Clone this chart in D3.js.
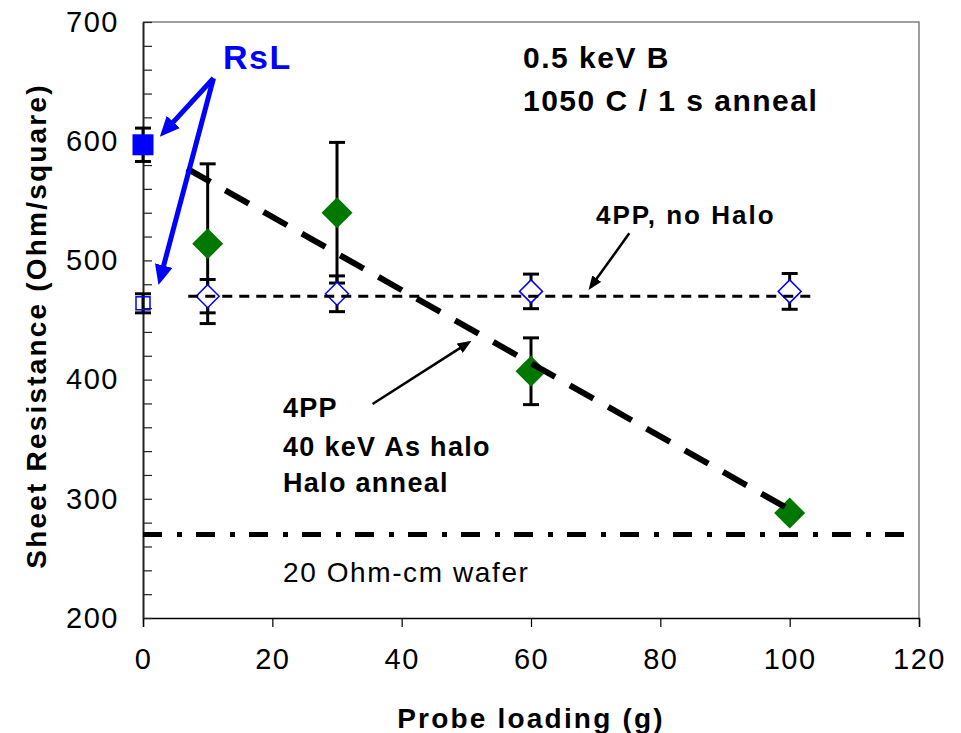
<!DOCTYPE html>
<html><head><meta charset="utf-8">
<script src="https://cdn.jsdelivr.net/npm/d3@7"></script>
<style>body{margin:0;background:#fff} svg{display:block}</style>
</head><body>
<svg id="c" width="961" height="733"></svg>
<script>
// ---- data ----
const xTicks = [0, 20, 40, 60, 80, 100, 120];
const yTicks = [200, 300, 400, 500, 600, 700];
const yMinor = [200,220,240,260,280,300,320,340,360,380,400,420,440,460,480,500,520,540,560,580,600,620,640,660,680,700];
const loading = [10, 30, 60, 100];
const noHalo = [470, 472, 474, 474];
const noHaloErr = [14, 15, 14.5, 15];
const halo = [514, 540, 407, 288];
const haloErr = [67, 59, 28, 0];
const rslLoading = [0];
const rslFilled = [597];
const rslFilledErr = [14];
const rslOpen = [464];
const rslOpenErr = [8];
const noHaloLevelX = [7, 104];
const noHaloLevel = 470;
const haloTrendX = [6.8, 101.6];
const haloTrendY = [577, 286];
const waferX = [0, 118];
const waferLevel = 270;

// ---- setup ----
const svg = d3.select('#c');
const x = d3.scaleLinear().domain([0, 120]).range([143, 919]);
const y = d3.scaleLinear().domain([200, 700]).range([618, 22]);
const font = '"Liberation Sans", Arial, sans-serif';
const green = '#007800';
const blue = '#0000ff';

// plot frame (top / right)
svg.append('path').attr('d', `M${x(0)},${y(700)}H${x(120)}V${y(200)}`)
  .attr('fill', 'none').attr('stroke', '#808080').attr('stroke-width', 1.5);

// defs
const defs = svg.append('defs');
function marker(id, len, wid, color) {
  defs.append('marker').attr('id', id).attr('viewBox', `0 0 ${len} ${wid}`)
    .attr('refX', len).attr('refY', wid / 2).attr('markerWidth', len).attr('markerHeight', wid)
    .attr('markerUnits', 'userSpaceOnUse').attr('orient', 'auto')
    .append('path').attr('d', `M0,0L${len},${wid/2}L0,${wid}Z`).attr('fill', color);
}
marker('blueHead', 20, 18, blue);
marker('blackHead', 14, 11, '#000');

// axes
const gx = svg.append('g').attr('transform', `translate(0,${y(200)})`)
  .call(d3.axisBottom(x).tickValues(xTicks).tickSize(9).tickPadding(21));
gx.select('.domain').attr('stroke', '#000').attr('stroke-width', 1.5);
gx.selectAll('.tick line').attr('stroke', '#000').attr('stroke-width', 1.2);
gx.selectAll('.tick text').attr('font-family', font).attr('font-size', 29)
  .attr('fill', '#000').style('letter-spacing', '1.5px').attr('dy', '0.71em');

const gyMinor = svg.append('g').attr('transform', `translate(${x(0)},0)`)
  .call(d3.axisLeft(y).tickValues(yMinor).tickSize(-9).tickFormat(''));
gyMinor.select('.domain').remove();
gyMinor.selectAll('.tick line').attr('stroke', '#222').attr('stroke-width', 1.2);

const gy = svg.append('g').attr('transform', `translate(${x(0)},0)`)
  .call(d3.axisLeft(y).tickValues(yTicks).tickSize(0).tickPadding(24));
gy.select('.domain').attr('stroke', '#222').attr('stroke-width', 2);
gy.selectAll('.tick text').attr('font-family', font).attr('font-size', 29)
  .attr('fill', '#000').style('letter-spacing', '1.5px');

// axis titles
svg.append('text').attr('x', (x(0) + x(120)) / 2).attr('y', 728).attr('text-anchor', 'middle')
  .attr('font-family', font).attr('font-size', 28).attr('font-weight', 'bold')
  .style('letter-spacing', '2.2px').text('Probe loading (g)');
svg.append('text').attr('transform', `translate(46,${(y(200) + y(700)) / 2 + 6}) rotate(-90)`)
  .attr('text-anchor', 'middle').attr('font-family', font).attr('font-size', 28)
  .attr('font-weight', 'bold').style('letter-spacing', '2.2px').text('Sheet Resistance (Ohm/square)');

// error bars
const plot = svg.append('g');
function errBars(xs, ys, es) {
  xs.forEach((xv, i) => {
    if (!es[i]) return;
    const cx = x(xv), y1 = y(ys[i] + es[i]), y2 = y(ys[i] - es[i]);
    plot.append('line').attr('x1', cx).attr('x2', cx).attr('y1', y1).attr('y2', y2)
      .attr('stroke', '#000').attr('stroke-width', 3);
    [y1, y2].forEach(yy => plot.append('line').attr('x1', cx - 8).attr('x2', cx + 8)
      .attr('y1', yy).attr('y2', yy).attr('stroke', '#000').attr('stroke-width', 3));
  });
}
errBars(loading, halo, haloErr);
errBars(loading, noHalo, noHaloErr);
errBars(rslLoading, rslFilled, rslFilledErr);
errBars(rslLoading, rslOpen, rslOpenErr);

const diamond = r => `M0,${-r}L${r},0L0,${r}L${-r},0Z`;
// halo (green filled diamonds)
plot.selectAll('.halo').data(loading).join('path')
  .attr('transform', (d, i) => `translate(${x(d)},${y(halo[i])})`)
  .attr('d', diamond(15.5)).attr('fill', green);
// no halo (open blue diamonds)
plot.selectAll('.nohalo').data(loading).join('path')
  .attr('transform', (d, i) => `translate(${x(d)},${y(noHalo[i])})`)
  .attr('d', diamond(11.5)).attr('fill', '#fff').attr('stroke', blue).attr('stroke-width', 1.5);
// RsL squares
plot.selectAll('.rslf').data(rslLoading).join('rect')
  .attr('x', (d) => x(d) - 10.5).attr('y', (d, i) => y(rslFilled[i]) - 10.5)
  .attr('width', 21).attr('height', 21).attr('fill', blue);
plot.selectAll('.rslo').data(rslLoading).join('rect')
  .attr('x', (d) => x(d) - 7).attr('y', (d, i) => y(rslOpen[i]) - 6.5)
  .attr('width', 14).attr('height', 13).attr('fill', 'none').attr('stroke', blue).attr('stroke-width', 1.5);

// reference lines
plot.append('line').attr('x1', x(noHaloLevelX[0])).attr('x2', x(noHaloLevelX[1]))
  .attr('y1', y(noHaloLevel)).attr('y2', y(noHaloLevel))
  .attr('stroke', '#000').attr('stroke-width', 3).attr('stroke-dasharray', '10,7');
plot.append('line').attr('x1', x(haloTrendX[0])).attr('x2', x(haloTrendX[1]))
  .attr('y1', y(haloTrendY[0])).attr('y2', y(haloTrendY[1]))
  .attr('stroke', '#000').attr('stroke-width', 6).attr('stroke-dasharray', '27,17');
plot.append('line').attr('x1', x(waferX[0])).attr('x2', x(waferX[1]))
  .attr('y1', y(waferLevel)).attr('y2', y(waferLevel))
  .attr('stroke', '#000').attr('stroke-width', 5).attr('stroke-dasharray', '19,15,5,14');

// arrows (annotation, in data coordinates)
function arrow(x0, y0, x1, y1, color, w, head, shorten) {
  const px0 = x(x0), py0 = y(y0), px1 = x(x1), py1 = y(y1);
  const L = Math.hypot(px1 - px0, py1 - py0);
  const ux = (px1 - px0) / L, uy = (py1 - py0) / L;
  svg.append('line').attr('x1', px0).attr('y1', py0)
    .attr('x2', px1 - ux * shorten).attr('y2', py1 - uy * shorten)
    .attr('stroke', color).attr('stroke-width', w);
  svg.append('line').attr('x1', px1 - ux * (shorten + 1)).attr('y1', py1 - uy * (shorten + 1))
    .attr('x2', px1).attr('y2', py1).attr('stroke', 'none')
    .attr('marker-end', `url(#${head})`);
}
arrow(10.9, 652.8, 2.6, 603.8, blue, 5, 'blueHead', 14);
arrow(10.9, 652.8, 2.4, 479.4, blue, 5, 'blueHead', 14);
arrow(75.2, 522.7, 68.9, 475.2, '#000', 2.5, 'blackHead', 10);
arrow(35.5, 379.5, 50.8, 432.6, '#000', 2.5, 'blackHead', 10);

// labels
function label(txt, px, py, size, weight, color, ls) {
  svg.append('text').attr('x', px).attr('y', py).attr('font-family', font)
    .attr('font-size', size).attr('font-weight', weight).attr('fill', color)
    .style('letter-spacing', ls + 'px').text(txt);
}
label('RsL', 223, 69, 34, 'bold', blue, 1.5);
label('0.5 keV B', 523, 68, 30, 'bold', '#000', 1.5);
label('1050 C / 1 s anneal', 523, 111, 30, 'bold', '#000', 1.5);
label('4PP, no Halo', 596, 224, 26, 'bold', '#000', 2);
label('4PP', 283, 417, 27, 'bold', '#000', 1.3);
label('40 keV As halo', 283, 456, 27, 'bold', '#000', 1.3);
label('Halo anneal', 283, 492, 27, 'bold', '#000', 1.3);
label('20 Ohm-cm wafer', 283, 582, 28, 'normal', '#000', 1.6);
</script>
</body></html>
